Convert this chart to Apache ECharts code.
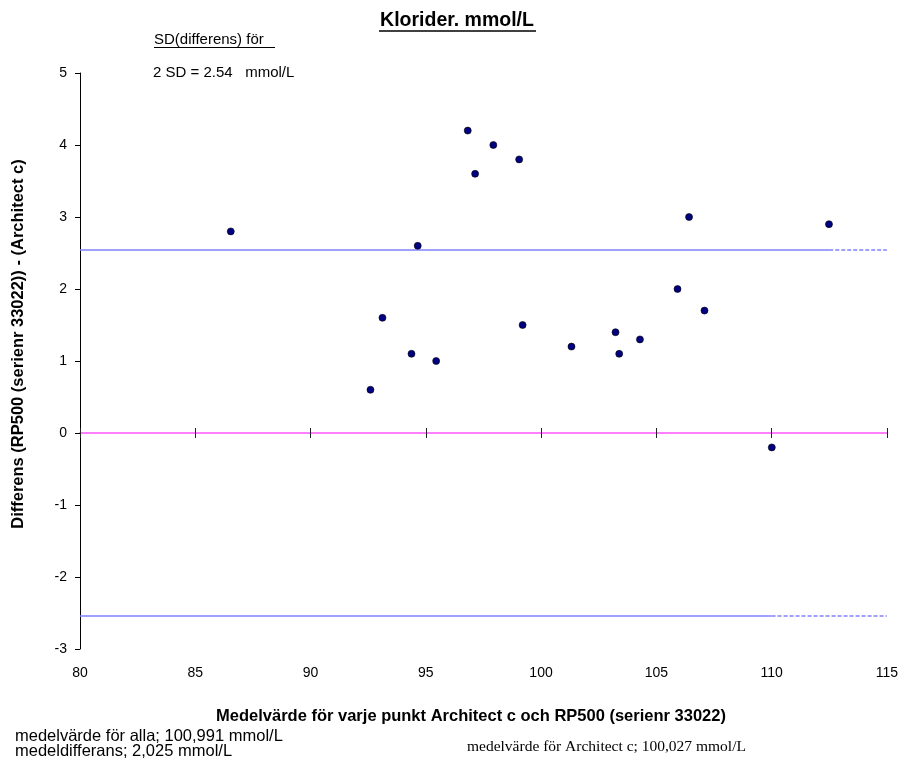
<!DOCTYPE html>
<html>
<head>
<meta charset="utf-8">
<script src="https://cdn.jsdelivr.net/npm/echarts@6/dist/echarts.min.js"></script>
<style>
    html,body{margin:0;padding:0;background:#fff;}
    #container{width:901px;height:760px;}
</style>
</head>
<body>
<div id="container"></div>
<script>
// medelvärde per punkt (x) och differens (y)
const meanValues = [86.54, 92.60, 93.12, 94.38, 94.65, 95.45, 96.82, 97.14, 97.93, 99.05,
                    99.20, 101.32, 103.23, 103.39, 104.29, 105.92, 106.42, 107.09, 110.01, 112.49];
const diffValues = [2.8, 0.6, 1.6, 1.1, 2.6, 1.0, 4.2, 3.6, 4.0, 3.8,
                    1.5, 1.2, 1.4, 1.1, 1.3, 2.0, 3.0, 1.7, -0.2, 2.9];

// axlar
const xRange = [80, 115];
const xStep = 5;
const yRange = [-3, 5];
const yStep = 1;

// 2 SD gränser, heldragen del slutar vid sista punkten
const sdLimit = 2.54;
const upperSolidEnd = 112.5;
const lowerSolidEnd = 110.0;

const FONT = '"Liberation Sans", Arial, sans-serif';
const SERIF = '"Liberation Serif", "Times New Roman", serif';
const blue = '#8080ff';
const pink = '#ff80ff';

let points = meanValues.map(function(x, i){ return [x, diffValues[i]]; });

function limitLine(y, end, dashed){
    return {
        type: 'line',
        xAxisIndex: 0,
        symbol: 'none',
        silent: true,
        lineStyle: {color: blue, width: 1.5, type: dashed ? [4, 2] : 'solid'},
        data: dashed ? [[end, y], [xRange[1], y]] : [[xRange[0], y], [end, y]]
    };
}

let option = {
    animation: false,
    backgroundColor: '#fff',
    grid: {left: 80, right: 13, top: 73, bottom: 111},
    xAxis: [
        {   // etiketter längst ner
            type: 'value', min: xRange[0], max: xRange[1], interval: xStep,
            position: 'bottom',
            axisLine: {show: false, onZero: false},
            axisTick: {show: false},
            splitLine: {show: false},
            axisLabel: {color: '#000', fontSize: 14, fontFamily: FONT, margin: 17}
        },
        {   // rosa linje vid 0 med streck nedåt
            type: 'value', min: xRange[0], max: xRange[1], interval: xStep,
            position: 'bottom',
            axisLine: {show: true, onZero: true, onZeroAxisIndex: 0, lineStyle: {color: pink, width: 2}},
            axisTick: {show: true, length: 5, lineStyle: {color: '#222', width: 1}},
            axisLabel: {show: false},
            splitLine: {show: false}
        },
        {   // streck uppåt
            type: 'value', min: xRange[0], max: xRange[1], interval: xStep,
            position: 'bottom',
            axisLine: {show: false, onZero: true, onZeroAxisIndex: 0},
            axisTick: {show: true, inside: true, length: 5, lineStyle: {color: '#222', width: 1}},
            axisLabel: {show: false},
            splitLine: {show: false}
        }
    ],
    yAxis: {
        type: 'value', min: yRange[0], max: yRange[1], interval: yStep,
        axisLine: {show: true, onZero: false, lineStyle: {color: '#000', width: 1}},
        axisTick: {show: true, length: 5, lineStyle: {color: '#000'}},
        splitLine: {show: false},
        axisLabel: {color: '#000', fontSize: 14, fontFamily: FONT, margin: 13}
    },
    series: [
        limitLine(sdLimit, upperSolidEnd, false),
        limitLine(sdLimit, upperSolidEnd, true),
        limitLine(-sdLimit, lowerSolidEnd, false),
        limitLine(-sdLimit, lowerSolidEnd, true),
        {
            type: 'scatter',
            xAxisIndex: 0,
            symbolSize: 7,
            itemStyle: {color: '#000080', borderColor: '#000', borderWidth: 0.6, opacity: 1},
            data: points,
            z: 5
        }
    ],
    graphic: [
        {type: 'text', x: 457, y: 21, style: {text: 'Klorider. mmol/L', font: 'bold 19.5px ' + FONT, fill: '#000', align: 'center', verticalAlign: 'middle'}},
        {type: 'line', shape: {x1: 379, y1: 31, x2: 536, y2: 31}, style: {stroke: '#000', lineWidth: 1.5}},
        {type: 'text', x: 154, y: 40, style: {text: 'SD(differens) för', font: '15px ' + FONT, fill: '#000', align: 'left', verticalAlign: 'middle'}},
        {type: 'line', shape: {x1: 154, y1: 47.5, x2: 275, y2: 47.5}, style: {stroke: '#000', lineWidth: 1}},
        {type: 'text', x: 153, y: 73, style: {text: '2 SD = 2.54   mmol/L', font: '15px ' + FONT, fill: '#000', align: 'left', verticalAlign: 'middle'}},
        {type: 'text', x: 18, y: 344, rotation: Math.PI / 2,
            style: {text: 'Differens (RP500 (serienr 33022)) - (Architect c)', font: 'bold 16.5px ' + FONT, fill: '#000', align: 'center', verticalAlign: 'middle'}},
        {type: 'text', x: 471, y: 716, style: {text: 'Medelvärde för varje punkt Architect c och RP500 (serienr 33022)', font: 'bold 16.5px ' + FONT, fill: '#000', align: 'center', verticalAlign: 'middle'}},
        {type: 'text', x: 15, y: 736, style: {text: 'medelvärde för alla; 100,991 mmol/L', font: '16.5px ' + FONT, fill: '#000', align: 'left', verticalAlign: 'middle'}},
        {type: 'text', x: 15, y: 751, style: {text: 'medeldifferans; 2,025 mmol/L', font: '16.5px ' + FONT, fill: '#000', align: 'left', verticalAlign: 'middle'}},
        {type: 'text', x: 467, y: 747, style: {text: 'medelvärde för Architect c; 100,027 mmol/L', font: '15.5px ' + SERIF, fill: '#000', align: 'left', verticalAlign: 'middle'}}
    ]
};

let chart = echarts.init(document.getElementById('container'));
chart.setOption(option);
</script>
</body>
</html>
